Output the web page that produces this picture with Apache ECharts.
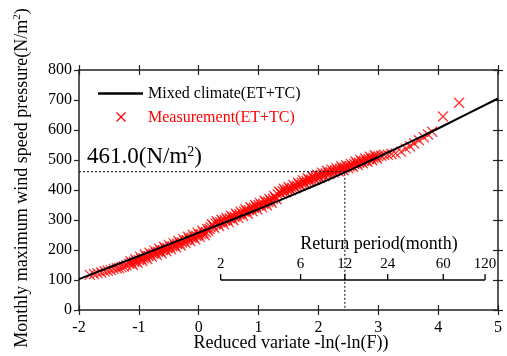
<!DOCTYPE html>
<html><head><meta charset="utf-8">
<script src="https://cdn.jsdelivr.net/npm/echarts@6/dist/echarts.min.js"></script>
<style>html,body{margin:0;padding:0;background:#fff}#c{width:507px;height:356px}</style>
</head><body><div id="c"></div>
<script>
// ---- data ----
const measX = [
 -1.82,-1.75,-1.69,-1.63,-1.57,-1.52,-1.47,-1.42,-1.37,-1.33,-1.29,-1.25,-1.21,
 -1.16,-1.12,-1.08,-1.04,-1.00,-0.96,-0.92,-0.88,-0.84,-0.80,
 -0.76,-0.72,-0.68,-0.64,-0.60,-0.56,-0.52,-0.48,-0.44,-0.40,
 -0.36,-0.32,-0.28,-0.24,-0.20,-0.16,-0.12,-0.08,-0.04,0.00,
 0.04,0.08,0.12,0.16,0.20,0.24,0.28,0.32,0.36,0.40,
 0.44,0.48,0.52,0.56,0.60,0.64,0.68,0.72,0.76,0.80,
 0.84,0.88,0.92,0.96,1.00,1.04,1.08,1.12,1.16,1.20,
 1.24,1.28,1.32,1.36,1.40,1.44,1.48,1.52,1.56,1.60,
 1.64,1.68,1.72,1.76,1.80,1.84,1.88,1.92,1.96,2.00,
 2.04,2.08,2.12,2.16,2.20,2.24,2.28,2.32,2.36,2.40,
 2.44,2.48,2.52,2.56,2.60,2.64,2.68,2.72,2.76,2.80,
 2.84,2.88,2.92,2.96,3.00,3.05,3.10,3.16,3.22,
 3.29,3.38,3.46,3.53,3.60,3.68,3.76,3.83,3.90,4.08,4.35,
 -1.14,-1.10,-1.06,-1.02,-0.98,-0.94,-0.90,-0.86,-0.82,-0.78,
 -0.74,-0.70,-0.66,-0.62,-0.58,-0.54,-0.50,-0.46,-0.42,-0.38,
 -0.34,-0.30,-0.26,-0.22,-0.18,-0.14,-0.10,-0.06,-0.02,0.02,
 0.06,0.10,0.14,0.18,0.22,0.26,0.30,0.34,0.38,0.42,
 0.46,0.50,0.54,0.58,0.62,0.66,0.70,0.74,0.78,0.82,
 0.86,0.90,0.94,0.98,1.02,1.06,1.10,1.14,1.18,1.22,
 1.26,1.30,1.34,1.38,1.42,1.46,1.50,1.54,1.58,1.62,
 1.66,1.70,1.74,1.78,1.82,1.86,1.90,1.94,1.98,2.02,
 2.06,2.10,2.14,2.18,2.22,2.26,2.30,2.34,2.38,2.42,
 2.46,2.50,2.54,2.58,2.62,2.66,2.70,2.74,2.78,2.82,
 2.86,2.90,2.94,2.98
];
const measY = [
 117,120,123,125,129,131,133,137,139,140,143,145,149,
 154,157,161,163,167,170,172,178,180,183,
 188,190,194,196,200,204,206,210,212,215,
 220,222,225,230,233,236,241,243,247,251,
 253,257,259,263,276,282,288,289,293,295,
 299,301,306,308,311,317,319,322,328,330,
 333,339,341,344,349,351,354,359,361,364,
 371,375,385,391,396,397,401,404,407,412,
 414,419,424,425,430,434,435,441,443,445,
 450,451,455,458,459,463,465,466,471,472,
 474,478,479,481,487,489,491,495,497,499,
 503,505,507,510,512,514,517,517,520,
 522,528,538,546,555,566,576,585,594,645,691,
 163,150,169,157,178,163,185,170,191,177,
 198,183,204,189,211,196,217,202,223,209,
 230,215,237,223,244,230,251,236,258,243,
 264,249,270,270,286,274,296,280,301,286,
 307,293,314,299,321,307,328,314,336,321,
 343,329,350,336,357,342,364,349,370,357,
 380,369,395,387,404,392,410,399,417,406,
 424,415,432,421,439,428,445,435,451,441,
 458,446,464,452,468,457,473,462,479,466,
 483,472,487,477,495,483,500,489,505,494,
 511,499,516,504
];
const fitX = [-2, -1, 0, 1, 2, 2.43, 3, 4, 5];
const fitY = [103, 180, 258, 336, 420, 458, 510, 605, 705];
const returnPeriods = [2, 6, 12, 24, 60, 120];
const designPeriod = 12;
const designValue = 461.0;
const xTickMin = -2, xTickMax = 5, yTickMin = 0, yTickMax = 800;
const legendNames = ['Mixed climate(ET+TC)', 'Measurement(ET+TC)'];

// ---- helpers ----
const gumbel = T => -Math.log(-Math.log(1 - 1 / T));
const F = 'Liberation Serif';
const AX = '#222';
const RED = '#ff0000';
const rpLineY = 100;   // vertical placement (value units) of the return-period scale
const xDesign = gumbel(designPeriod);

const chart = echarts.init(document.getElementById('c'), null, {renderer: 'canvas'});

function xa(pos, inside, showLine, showLabel) {
  return {
    type: 'value', min: xTickMin, max: xTickMax, interval: 1, position: pos,
    axisLine: {show: showLine, onZero: false, lineStyle: {color: AX, width: 1.5}},
    axisTick: {show: true, inside: inside, length: 5, lineStyle: {color: AX, width: 1.2}},
    axisLabel: {show: showLabel, color: '#000', fontFamily: F, fontSize: 16, margin: 10},
    splitLine: {show: false}
  };
}
function ya(pos, inside, showLine, showLabel) {
  return {
    type: 'value', min: yTickMin, max: yTickMax, interval: 100, position: pos,
    axisLine: {show: showLine, onZero: false, lineStyle: {color: AX, width: 1.5}},
    axisTick: {show: true, inside: inside, length: 5, lineStyle: {color: AX, width: 1.2}},
    axisLabel: {show: showLabel, color: '#000', fontFamily: F, fontSize: 16, margin: 7},
    splitLine: {show: false}
  };
}

const rpData = returnPeriods.map(T => [gumbel(T), rpLineY, T]);

chart.setOption({
  animation: false,
  backgroundColor: '#fff',
  grid: {left: 79, right: 9, top: 70, bottom: 46, containLabel: false},
  xAxis: [xa('bottom', false, true, true), xa('bottom', true, false, false),
          xa('top', true, true, false), xa('top', false, false, false)],
  yAxis: [ya('left', false, true, true), ya('right', true, true, false),
          ya('right', false, false, false)],
  series: [
    {
      name: legendNames[1], type: 'scatter',
      symbol: 'path://M0,0L10,10M10,0L0,10', symbolSize: 10,
      itemStyle: {color: 'rgba(0,0,0,0)', borderColor: RED, borderWidth: 1.3},
      data: measX.map((x, i) => [x, measY[i]]), z: 2
    },
    {
      name: legendNames[0], type: 'line', symbol: 'none', smooth: 0.2,
      lineStyle: {color: '#000', width: 2},
      data: fitX.map((x, i) => [x, fitY[i]]), z: 3
    },
    {
      name: 'guide', type: 'line', symbol: 'none', silent: true,
      lineStyle: {color: '#000', width: 1, type: [2, 2]},
      data: [[xTickMin, designValue], [xDesign, designValue], [xDesign, yTickMin]], z: 4
    },
    {
      name: 'rpaxis', type: 'line', symbol: 'none', silent: true,
      lineStyle: {color: '#000', width: 1.3},
      data: [[gumbel(returnPeriods[0]), rpLineY], [gumbel(returnPeriods[returnPeriods.length - 1]), rpLineY]], z: 4
    },
    {
      name: 'rpticks', type: 'custom', silent: true, z: 4,
      data: rpData,
      renderItem: function (params, api) {
        const p = api.coord([api.value(0), api.value(1)]);
        return {
          type: 'group',
          children: [
            {type: 'line', shape: {x1: p[0], y1: p[1], x2: p[0], y2: p[1] - 6},
             style: {stroke: '#000', lineWidth: 1.3}},
            {type: 'text', x: p[0], y: p[1] - 16,
             style: {text: String(api.value(2)), fill: '#000', font: '15px ' + F,
                     textAlign: 'center', textVerticalAlign: 'middle'}}
          ]
        };
      }
    }
  ],
  graphic: [
    // legend
    {type: 'line', shape: {x1: 98, y1: 93.5, x2: 143, y2: 93.5}, style: {stroke: '#000', lineWidth: 2.5}},
    {type: 'text', x: 148, y: 93.7, style: {text: legendNames[0], font: '16px ' + F, fill: '#000', textAlign: 'left', textVerticalAlign: 'middle'}},
    {type: 'line', shape: {x1: 116.5, y1: 112.5, x2: 125.5, y2: 121.5}, style: {stroke: RED, lineWidth: 1.2}},
    {type: 'line', shape: {x1: 125.5, y1: 112.5, x2: 116.5, y2: 121.5}, style: {stroke: RED, lineWidth: 1.2}},
    {type: 'text', x: 148, y: 117.4, style: {text: legendNames[1], font: '16px ' + F, fill: RED, textAlign: 'left', textVerticalAlign: 'middle'}},
    // axis titles
    {type: 'text', x: 22, y: 178, rotation: Math.PI / 2,
     style: {text: '{a|Monthly maximum wind speed pressure(N/m}{s|2}{a|)}',
             textAlign: 'center', textVerticalAlign: 'middle',
             rich: {a: {fontSize: 18, fontFamily: F, fill: '#000', lineHeight: 20},
                    s: {fontSize: 11, fontFamily: F, fill: '#000', verticalAlign: 'top', lineHeight: 11}}}},
    {type: 'text', x: 291, y: 343,
     style: {text: 'Reduced variate -ln(-ln(F))', font: '18px ' + F, fill: '#000',
             textAlign: 'center', textVerticalAlign: 'middle'}},
    {type: 'text', x: 379, y: 244,
     style: {text: 'Return period(month)', font: '18px ' + F, fill: '#000',
             textAlign: 'center', textVerticalAlign: 'middle'}},
    {type: 'text', x: 87, y: 157,
     style: {text: '{a|' + designValue.toFixed(1) + '(N/m}{s|2}{a|)}',
             textAlign: 'left', textVerticalAlign: 'middle',
             rich: {a: {fontSize: 23, fontFamily: F, fill: '#000', lineHeight: 24},
                    s: {fontSize: 14, fontFamily: F, fill: '#000', verticalAlign: 'top', lineHeight: 14}}}}
  ]
});
</script></body></html>
